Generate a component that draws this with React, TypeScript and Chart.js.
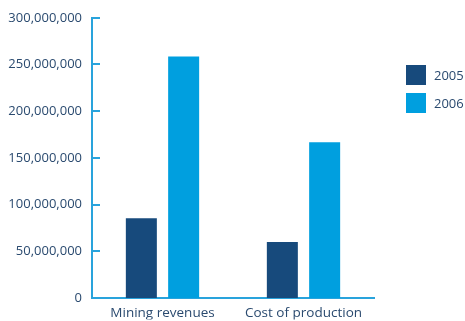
import React, { useEffect, useRef } from "react";
import { Chart, registerables } from "chart.js";

Chart.register(...registerables);

const categories = ["Mining revenues", "Cost of production"];
const seriesLabels = ["2005", "2006"];
const values2005 = [85500000, 60000000];
const values2006 = [258500000, 166700000];
const yTicks = [0, 50000000, 100000000, 150000000, 200000000, 250000000, 300000000];

const TEXT = "#2a4a6f";
const AXIS = "#29a3dc";
const DARK = "#174a7c";
const LIGHT = "#009fdf";
const FONT = "'Open Sans', 'Noto Sans', sans-serif";

const innerTicks = {
  id: "innerTicks",
  afterDraw(chart: any) {
    const s = chart.scales.y;
    const ctx = chart.ctx;
    ctx.save();
    ctx.strokeStyle = AXIS;
    ctx.lineWidth = 2;
    s.ticks.forEach((_t: any, i: number) => {
      const y = Math.round(s.getPixelForTick(i));
      ctx.beginPath();
      ctx.moveTo(chart.chartArea.left, y);
      ctx.lineTo(chart.chartArea.left + 8, y);
      ctx.stroke();
    });
    ctx.restore();
  },
};

const sideLegend = {
  id: "sideLegend",
  afterDraw(chart: any) {
    const ctx = chart.ctx;
    const x0 = chart.chartArea.right + 32;
    const tops = [65, 93];
    ctx.save();
    ctx.font = `13px ${FONT}`;
    ctx.textBaseline = "middle";
    chart.data.datasets.forEach((ds: any, i: number) => {
      const y = tops[i];
      ctx.fillStyle = ds.backgroundColor;
      ctx.fillRect(x0, y, 20, 20);
      ctx.fillStyle = TEXT;
      ctx.fillText(ds.label, x0 + 28, y + 11);
    });
    ctx.restore();
  },
};

export default function App() {
  const ref = useRef<HTMLCanvasElement>(null);
  useEffect(() => {
    if (!ref.current) return;
    const chart = new Chart(ref.current, {
      type: "bar",
      data: {
        labels: categories,
        datasets: [
          { label: seriesLabels[0], data: values2005, backgroundColor: DARK },
          { label: seriesLabels[1], data: values2006, backgroundColor: LIGHT },
        ],
      },
      options: {
        animation: false,
        responsive: true,
        maintainAspectRatio: false,
        layout: { padding: { top: 15.5, left: 0, right: 91, bottom: 1.5 } },
        datasets: { bar: { categoryPercentage: 0.6, barPercentage: 0.733 } },
        plugins: { legend: { display: false }, tooltip: { enabled: false } },
        scales: {
          x: {
            afterFit: (s: any) => {
              s.height = 21.5;
            },
            grid: { display: false, drawTicks: false },
            border: { color: AXIS, width: 2 },
            ticks: { color: TEXT, font: { family: FONT, size: 13.5 }, padding: 7.5 },
          },
          y: {
            min: 0,
            max: 300000000,
            afterBuildTicks: (s: any) => {
              s.ticks = yTicks.map((v) => ({ value: v }));
            },
            afterFit: (s: any) => {
              s.width = 92;
            },
            grid: { display: false, drawTicks: false },
            border: { color: AXIS, width: 2 },
            ticks: {
              color: TEXT,
              font: { family: FONT, size: 13 },
              padding: 10,
              callback: (v: any) => Number(v).toLocaleString("en-US"),
            },
          },
        },
      },
      plugins: [innerTicks, sideLegend],
    });
    return () => chart.destroy();
  }, []);
  return (
    <div style={{ position: "fixed", left: 0, top: 0, width: 465, height: 321, background: "#fff" }}>
      <canvas ref={ref} />
    </div>
  );
}
